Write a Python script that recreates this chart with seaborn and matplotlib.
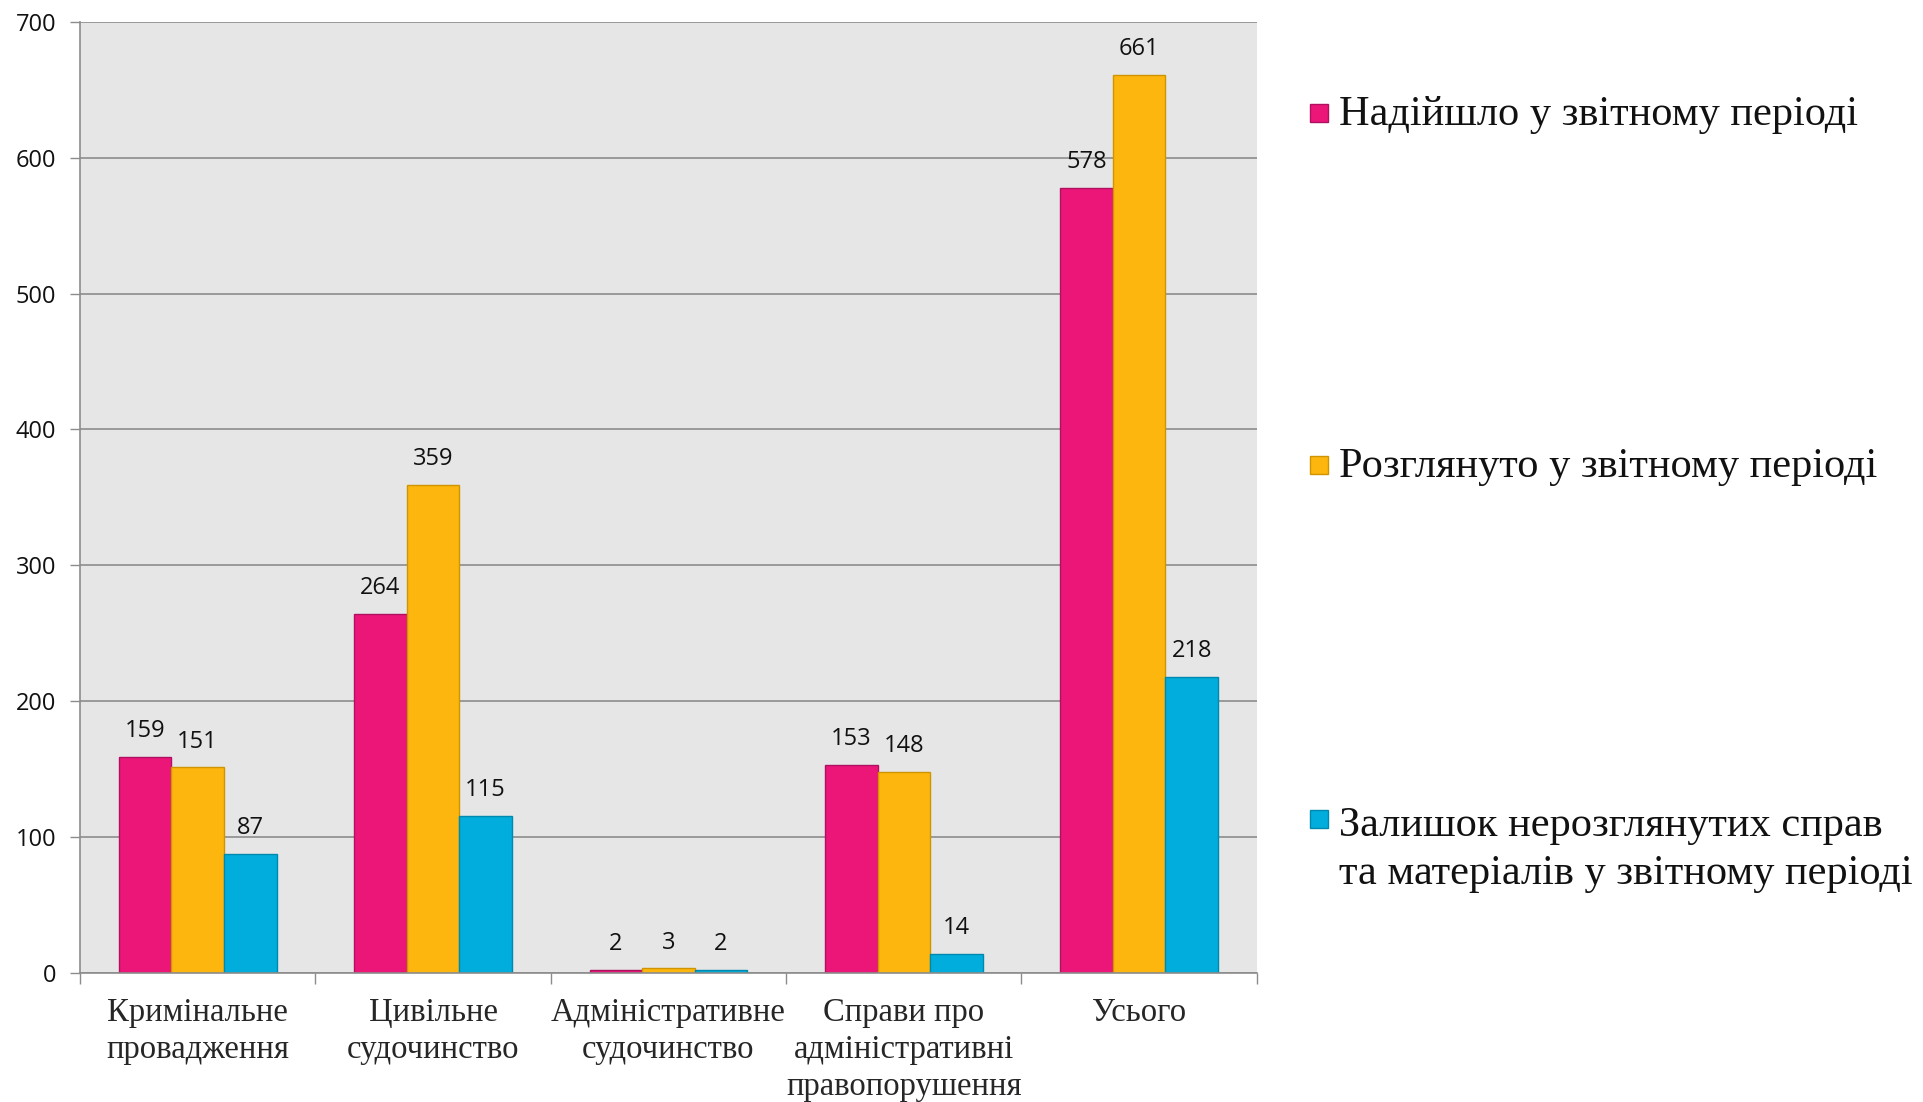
import matplotlib
matplotlib.use("Agg")
import matplotlib.pyplot as plt
import seaborn as sns
import pandas as pd
from matplotlib.patches import Rectangle

categories = ["Кримінальне\nпровадження", "Цивільне\nсудочинство", "Адміністративне\nсудочинство",
              "Справи про\nадміністративні\nправопорушення", "Усього"]
series_names = ["Надійшло у звітному періоді", "Розглянуто у звітному періоді",
                "Залишок нерозглянутих справ\nта матеріалів у звітному періоді"]
received = [159, 264, 2, 153, 578]
reviewed = [151, 359, 3, 148, 661]
remaining = [87, 115, 2, 14, 218]
y_ticks = [0, 100, 200, 300, 400, 500, 600, 700]

colors = ["#EC1679", "#FDB60D", "#00ADDC"]
edges = ["#B01060", "#D09400", "#0089AE"]

rows = []
for s, vals in zip(series_names, [received, reviewed, remaining]):
    for c, v in zip(categories, vals):
        rows.append({"cat": c, "series": s, "value": v})
df = pd.DataFrame(rows)

sns.set_theme(style="white")
plt.rcParams["font.family"] = ["Open Sans", "DejaVu Sans"]

fig = plt.figure(figsize=(19.23, 11.02), dpi=100)
ax = fig.add_axes([0.0416, 0.1175, 0.612, 0.8625])
ax.set_facecolor("#E6E6E6")

sns.barplot(data=df, x="cat", y="value", hue="series", order=categories,
            hue_order=series_names, palette=colors, width=0.67, gap=0,
            ax=ax, legend=False, saturation=1)

for i, cont in enumerate(ax.containers):
    for bar in cont:
        bar.set_edgecolor(edges[i])
        bar.set_linewidth(1.0)
    ax.bar_label(cont, labels=[str(int(b.get_height())) for b in cont],
                 padding=10, fontsize=17, color="#111111", family=["Open Sans", "DejaVu Sans"])

ax.set_xlim(-0.5, len(categories) - 0.5)
ax.set_ylim(0, 700)
ax.set_yticks(y_ticks)
ax.set_yticklabels([str(t) for t in y_ticks], fontsize=17, color="#111111")
ax.yaxis.grid(True, color="#8C8C8C", linewidth=1.2)
ax.set_axisbelow(True)

ax.set_xticks([i + 0.5 for i in range(-1, len(categories))])
ax.set_xticklabels([])
ax.set_xticks(range(len(categories)), minor=True)
ax.set_xticklabels(categories, minor=True, fontsize=23.5, family=["Liberation Serif", "DejaVu Serif"],
                   linespacing=1.27, va="top")
ax.tick_params(axis="x", which="major", length=8, width=1, color="#8C8C8C", direction="out", bottom=True)
ax.tick_params(axis="x", which="minor", length=0, pad=18)
ax.tick_params(axis="y", length=7, width=1, color="#8C8C8C", direction="out", left=True, pad=10)

ax.set_xlabel("")
ax.set_ylabel("")
for side in ["top", "right"]:
    ax.spines[side].set_visible(False)
for side in ["left", "bottom"]:
    ax.spines[side].set_color("#8C8C8C")
    ax.spines[side].set_linewidth(1.2)

# legend
marker_y = [0.8976, 0.5783, 0.2568]
text_y = [0.8955, 0.5762, 0.2290]
for col, ed, name, my, ty in zip(colors, edges, series_names, marker_y, text_y):
    fig.add_artist(Rectangle((0.681, my - 0.0085), 0.0095, 0.0166, transform=fig.transFigure,
                             facecolor=col, edgecolor=ed, linewidth=1))
    fig.text(0.6965, ty, name, fontsize=30.5, family=["Liberation Serif", "DejaVu Serif"],
             va="center", ha="left", color="#111111", linespacing=1.33)

fig.savefig("out.png", dpi=100)
